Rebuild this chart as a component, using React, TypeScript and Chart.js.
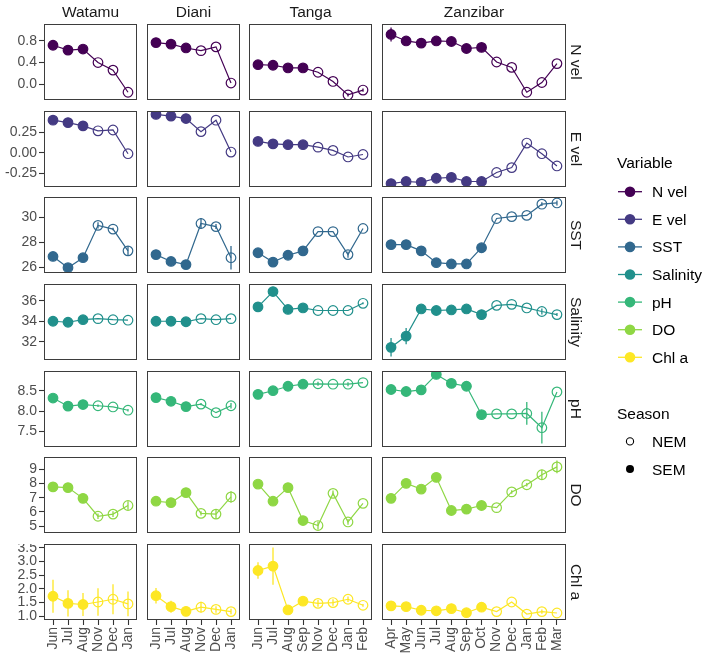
import React, { useEffect, useRef } from 'react';
import { Chart, registerables } from 'chart.js';

Chart.register(...registerables);

const FONT = '"Liberation Sans", Arial, Helvetica, sans-serif';

const SITES = ['Watamu', 'Diani', 'Tanga', 'Zanzibar'];
const VARIABLES = ['N vel', 'E vel', 'SST', 'Salinity', 'pH', 'DO', 'Chl a'];
const COLORS = ['#440154', '#443A83', '#31688E', '#21908C', '#35B779', '#8FD744', '#FDE725'];
const SEM_MONTHS = ['Apr', 'May', 'Jun', 'Jul', 'Aug', 'Sep', 'Oct'];

const WATAMU_MONTHS = ['Jun', 'Jul', 'Aug', 'Nov', 'Dec', 'Jan'];
const DIANI_MONTHS = ['Jun', 'Jul', 'Aug', 'Nov', 'Dec', 'Jan'];
const TANGA_MONTHS = ['Jun', 'Jul', 'Aug', 'Sep', 'Nov', 'Dec', 'Jan', 'Feb'];
const ZANZIBAR_MONTHS = ['Apr', 'May', 'Jun', 'Jul', 'Aug', 'Sep', 'Oct', 'Nov', 'Dec', 'Jan', 'Feb', 'Mar'];
const MONTHS = [WATAMU_MONTHS, DIANI_MONTHS, TANGA_MONTHS, ZANZIBAR_MONTHS];

// Means per site (Watamu, Diani, Tanga, Zanzibar) and their standard errors
const N_VEL = [
  [0.72, 0.63, 0.65, 0.40, 0.26, -0.15],
  [0.77, 0.74, 0.67, 0.62, 0.69, 0.02],
  [0.36, 0.35, 0.30, 0.30, 0.22, 0.05, -0.20, -0.11],
  [0.92, 0.80, 0.76, 0.80, 0.79, 0.66, 0.68, 0.41, 0.31, -0.15, 0.03, 0.38],
];
const N_VEL_SE = [
  [0, 0, 0, 0, 0, 0],
  [0, 0, 0, 0, 0, 0],
  [0, 0, 0, 0, 0, 0, 0.03, 0.03],
  [0.13, 0, 0, 0, 0, 0, 0, 0, 0, 0, 0, 0],
];

const E_VEL = [
  [0.40, 0.37, 0.33, 0.27, 0.28, -0.01],
  [0.47, 0.45, 0.42, 0.26, 0.40, 0.01],
  [0.14, 0.11, 0.10, 0.10, 0.07, 0.03, -0.05, -0.02],
  [-0.375, -0.35, -0.36, -0.31, -0.30, -0.35, -0.35, -0.24, -0.18, 0.12, -0.01, -0.16],
];
const E_VEL_SE = [
  [0, 0, 0, 0, 0, 0],
  [0, 0, 0, 0, 0, 0],
  [0, 0, 0, 0, 0, 0, 0, 0],
  [0, 0, 0, 0, 0, 0, 0, 0, 0, 0, 0, 0],
];

const SST = [
  [26.85, 25.95, 26.75, 29.35, 29.05, 27.3],
  [27.0, 26.45, 26.2, 29.5, 29.25, 26.75],
  [27.15, 26.4, 26.95, 27.3, 28.85, 28.85, 27.0, 29.1],
  [27.8, 27.8, 27.3, 26.35, 26.25, 26.25, 27.55, 29.9, 30.05, 30.15, 31.05, 31.15],
];
const SST_SE = [
  [0.1, 0, 0, 0.25, 0.1, 0.4],
  [0, 0, 0, 0.45, 0.2, 0.95],
  [0, 0, 0, 0, 0, 0, 0.25, 0],
  [0, 0, 0, 0, 0, 0, 0, 0, 0, 0, 0.15, 0.2],
];

const SALINITY = [
  [34.0, 33.9, 34.15, 34.25, 34.15, 34.1],
  [34.0, 34.0, 33.95, 34.25, 34.15, 34.25],
  [35.4, 36.9, 35.15, 35.3, 35.05, 35.05, 35.05, 35.75],
  [31.45, 32.55, 35.2, 35.05, 35.1, 35.2, 34.65, 35.55, 35.65, 35.3, 34.95, 34.65],
];
const SALINITY_SE = [
  [0, 0, 0, 0, 0, 0],
  [0, 0, 0, 0, 0, 0],
  [0, 0.4, 0, 0, 0, 0, 0, 0.1],
  [0.9, 0.8, 0, 0, 0, 0, 0, 0, 0, 0, 0.3, 0.15],
];

const PH = [
  [8.32, 8.12, 8.16, 8.13, 8.10, 8.02],
  [8.33, 8.24, 8.11, 8.17, 7.96, 8.13],
  [8.41, 8.50, 8.61, 8.66, 8.67, 8.66, 8.66, 8.70],
  [8.53, 8.48, 8.52, 8.90, 8.68, 8.61, 7.91, 7.93, 7.93, 7.94, 7.59, 8.47],
];
const PH_SE = [
  [0, 0, 0, 0.03, 0, 0.03],
  [0, 0, 0, 0.03, 0, 0.07],
  [0, 0, 0, 0, 0.05, 0, 0.05, 0],
  [0, 0, 0.1, 0, 0, 0, 0, 0, 0, 0.28, 0.39, 0],
];

const DO = [
  [7.75, 7.70, 6.95, 5.70, 5.85, 6.45],
  [6.75, 6.65, 7.35, 5.9, 5.85, 7.05],
  [7.95, 6.75, 7.7, 5.4, 5.05, 7.3, 5.3, 6.6],
  [6.95, 8.0, 7.6, 8.42, 6.1, 6.2, 6.45, 6.3, 7.4, 7.9, 8.6, 9.15],
];
const DO_SE = [
  [0, 0, 0.3, 0.2, 0.2, 0.3],
  [0, 0, 0, 0.15, 0.35, 0.4],
  [0, 0.25, 0, 0, 0.28, 0.2, 0.2, 0],
  [0, 0, 0, 0, 0, 0, 0.3, 0, 0.12, 0.12, 0.35, 0.45],
];

const CHL_A = [
  [1.73, 1.47, 1.43, 1.52, 1.62, 1.45],
  [1.75, 1.35, 1.18, 1.33, 1.25, 1.17],
  [2.67, 2.83, 1.23, 1.55, 1.47, 1.50, 1.62, 1.40],
  [1.38, 1.35, 1.22, 1.20, 1.28, 1.13, 1.33, 1.17, 1.52, 1.08, 1.17, 1.12],
];
const CHL_A_SE = [
  [0.6, 0.48, 0.42, 0.5, 0.55, 0.45],
  [0.28, 0.22, 0.05, 0.2, 0.12, 0.1],
  [0.3, 0.68, 0, 0.05, 0.12, 0.12, 0.1, 0.05],
  [0, 0, 0, 0, 0, 0, 0.05, 0, 0, 0, 0.08, 0],
];

const MEANS = [N_VEL, E_VEL, SST, SALINITY, PH, DO, CHL_A];
const ERRORS = [N_VEL_SE, E_VEL_SE, SST_SE, SALINITY_SE, PH_SE, DO_SE, CHL_A_SE];

const Y_TICKS = [
  [0, 0.4, 0.8],
  [-0.25, 0, 0.25],
  [26, 28, 30],
  [32, 34, 36],
  [7.5, 8, 8.5],
  [5, 6, 7, 8, 9],
  [1, 1.5, 2, 2.5, 3, 3.5],
];
const Y_DECIMALS = [1, 2, 0, 0, 1, 0, 1];

// Facet geometry (px)
const COL_LEFT = [44, 147, 249, 382];
const COL_W = [93, 93, 123, 184];
const ROW_TOP = [24, 111, 197, 284, 371, 457, 544];
const PANEL_H = 76;
const AXIS_W = 44;
const AXIS_H = 36;

const TICK_COLOR = '#4d4d4d';
const BORDER_COLOR = '#3d3d3d';

// Shared y range per variable row: data extent (incl. error bars) with 5% expansion
function rowRange(r: number): [number, number] {
  let lo = Infinity;
  let hi = -Infinity;
  MEANS[r].forEach((arr, c) => {
    arr.forEach((m, i) => {
      const e = ERRORS[r][c][i];
      lo = Math.min(lo, m - e);
      hi = Math.max(hi, m + e);
    });
  });
  const pad = (hi - lo) * 0.05;
  return [lo - pad, hi + pad];
}

function Panel({ r, c }: { r: number; c: number }) {
  const ref = useRef<HTMLCanvasElement>(null);
  const showY = c === 0;
  const showX = r === VARIABLES.length - 1;
  const left = COL_LEFT[c] - (showY ? AXIS_W : 0);
  const width = COL_W[c] + (showY ? AXIS_W : 0);
  const height = PANEL_H + (showX ? AXIS_H : 0);

  useEffect(() => {
    const canvas = ref.current;
    if (!canvas) return;
    const months = MONTHS[c];
    const means = MEANS[r][c];
    const se = ERRORS[r][c];
    const color = COLORS[r];
    const [lo, hi] = rowRange(r);

    const decor = {
      id: 'panelDecor',
      afterDatasetsDraw(chart: any) {
        const { ctx, chartArea: a, scales } = chart;
        const xs = scales.x;
        const ys = scales.y;
        ctx.save();
        ctx.beginPath();
        ctx.rect(a.left, a.top, a.right - a.left, a.bottom - a.top);
        ctx.clip();
        ctx.strokeStyle = color;
        ctx.lineWidth = 1.3;
        means.forEach((m, i) => {
          if (!se[i]) return;
          const px = xs.getPixelForValue(i);
          ctx.beginPath();
          ctx.moveTo(px, ys.getPixelForValue(m - se[i]));
          ctx.lineTo(px, ys.getPixelForValue(m + se[i]));
          ctx.stroke();
        });
        ctx.restore();
      },
      afterDraw(chart: any) {
        const { ctx, chartArea: a } = chart;
        ctx.save();
        ctx.strokeStyle = BORDER_COLOR;
        ctx.lineWidth = 1;
        ctx.strokeRect(a.left + 0.5, a.top + 0.5, a.right - a.left - 1, a.bottom - a.top - 1);
        ctx.restore();
      },
    };

    const tickFont = { family: FONT, size: 14 };

    const chart = new Chart(canvas, {
      type: 'line',
      data: {
        datasets: [
          {
            data: means.map((m, i) => ({ x: i, y: m })),
            borderColor: color,
            borderWidth: 1.2,
            pointRadius: 4.8,
            pointBorderWidth: 1.2,
            pointBorderColor: color,
            pointBackgroundColor: months.map((m) => (SEM_MONTHS.includes(m) ? color : 'rgba(255,255,255,0)')),
            tension: 0,
            fill: false,
            clip: 0,
          },
        ],
      },
      options: {
        responsive: false,
        animation: false,
        events: [],
        layout: { padding: 0, autoPadding: false },
        plugins: { legend: { display: false }, tooltip: { enabled: false } },
        scales: {
          x: {
            type: 'linear',
            min: -0.6,
            max: months.length - 0.4,
            display: showX,
            afterBuildTicks: (s: any) => {
              s.ticks = months.map((_, i) => ({ value: i }));
            },
            afterFit: (s: any) => {
              s.height = showX ? AXIS_H : 0;
              s.paddingLeft = 0;
              s.paddingRight = 0;
            },
            border: { display: false },
            grid: { drawOnChartArea: false, drawTicks: true, tickLength: 5, tickColor: '#333333', tickWidth: 1.1 },
            ticks: {
              autoSkip: false,
              minRotation: 90,
              maxRotation: 90,
              padding: 2,
              color: TICK_COLOR,
              font: tickFont,
              callback: (v: any) => months[Math.round(Number(v))] ?? '',
            },
          },
          y: {
            type: 'linear',
            min: lo,
            max: hi,
            display: showY,
            afterBuildTicks: (s: any) => {
              s.ticks = Y_TICKS[r].map((v) => ({ value: v }));
            },
            afterFit: (s: any) => {
              s.width = showY ? AXIS_W : 0;
              s.paddingTop = 0;
              s.paddingBottom = 0;
            },
            border: { display: false },
            grid: { drawOnChartArea: false, drawTicks: true, tickLength: 5, tickColor: '#333333', tickWidth: 1.1 },
            ticks: {
              autoSkip: false,
              padding: 2,
              color: TICK_COLOR,
              font: tickFont,
              callback: (v: any) => Number(v).toFixed(Y_DECIMALS[r]),
            },
          },
        },
      },
      plugins: [decor],
    } as any);

    return () => chart.destroy();
  }, [r, c]);

  return (
    <canvas
      ref={ref}
      width={width}
      height={height}
      style={{ position: 'absolute', left, top: ROW_TOP[r], width, height }}
    />
  );
}

export default function App() {
  return (
    <div style={{ position: 'absolute', left: 0, top: 0, width: 708, height: 656, background: '#ffffff' }}>
      {VARIABLES.map((_, r) => SITES.map((_, c) => <Panel key={`${r}-${c}`} r={r} c={c} />))}
      <svg
        width={708}
        height={656}
        style={{ position: 'absolute', left: 0, top: 0, pointerEvents: 'none', fontFamily: FONT }}
      >
        {SITES.map((s, c) => (
          <text
            key={s}
            x={COL_LEFT[c] + COL_W[c] / 2}
            y={11.8}
            textAnchor="middle"
            dominantBaseline="central"
            fontSize={15.5}
            fill="#1a1a1a"
          >
            {s}
          </text>
        ))}
        {VARIABLES.map((v, r) => {
          const cy = ROW_TOP[r] + PANEL_H / 2;
          return (
            <text
              key={v}
              x={576}
              y={cy}
              transform={`rotate(90 576 ${cy})`}
              textAnchor="middle"
              dominantBaseline="central"
              fontSize={15.5}
              fill="#1a1a1a"
            >
              {v}
            </text>
          );
        })}
        <text x={617} y={162} dominantBaseline="central" fontSize={15.5} fill="#000">
          Variable
        </text>
        {VARIABLES.map((v, i) => {
          const y = 191.7 + 27.6 * i;
          return (
            <g key={v}>
              <line x1={618} x2={642} y1={y} y2={y} stroke={COLORS[i]} strokeWidth={1.3} />
              <circle cx={630} cy={y} r={5.3} fill={COLORS[i]} />
              <text x={652} y={y} dominantBaseline="central" fontSize={15.5} fill="#000">
                {v}
              </text>
            </g>
          );
        })}
        <text x={617} y={413} dominantBaseline="central" fontSize={15.5} fill="#000">
          Season
        </text>
        <circle cx={630} cy={441.4} r={3.6} fill="none" stroke="#000" strokeWidth={1.1} />
        <text x={652} y={441.4} dominantBaseline="central" fontSize={15.5} fill="#000">
          NEM
        </text>
        <circle cx={630} cy={469} r={4} fill="#000" />
        <text x={652} y={469} dominantBaseline="central" fontSize={15.5} fill="#000">
          SEM
        </text>
      </svg>
    </div>
  );
}
